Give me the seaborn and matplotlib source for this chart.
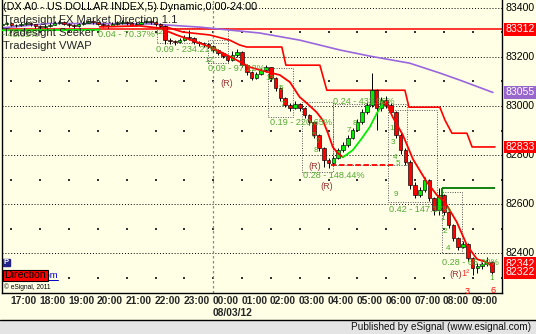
import numpy as np
import pandas as pd
import matplotlib
matplotlib.use("Agg")
import matplotlib.pyplot as plt
import matplotlib.transforms as mtransforms
from matplotlib.patches import Rectangle
import seaborn as sns

# ---------------- data ----------------
bar_start = "2012-08-02 16:40"
bar_minutes = 10
open_first = 83328
close = [83332, 83336, 83330, 83328, 83334, 83338, 83332, 83326, 83320, 83324,
         83330, 83336, 83340, 83334, 83330, 83326, 83332, 83338, 83344, 83340,
         83334, 83330, 83326, 83332, 83338, 83342, 83336, 83330, 83334, 83340,
         83346, 83340, 83334, 83326, 83268, 83264, 83260, 83268, 83280, 83276,
         83260, 83256, 83252, 83244, 83228, 83215, 83203, 83187, 83207, 83220,
         83166, 83138, 83113, 83130, 83146, 83158, 83113, 83072, 83031, 83003,
         82991, 83007, 82991, 82963, 82934, 82881, 82829, 82780, 82767, 82788,
         82821, 82841, 82870, 82902, 82935, 82975, 83004, 83065, 82992, 83024,
         83003, 82975, 82881, 82821, 82772, 82678, 82637, 82658, 82698, 82625,
         82576, 82637, 82568, 82515, 82462, 82425, 82438, 82381, 82340, 82348,
         82356, 82364, 82324]
high = [83340, 83342, 83340, 83334, 83340, 83346, 83340, 83334, 83328, 83332,
        83336, 83344, 83348, 83344, 83338, 83334, 83338, 83346, 83352, 83350,
        83342, 83338, 83334, 83340, 83346, 83350, 83346, 83340, 83342, 83356,
        83352, 83350, 83344, 83338, 83328, 83276, 83270, 83276, 83288, 83310,
        83280, 83266, 83262, 83256, 83248, 83232, 83220, 83206, 83225, 83232,
        83222, 83170, 83142, 83140, 83154, 83166, 83160, 83118, 83076, 83036,
        83012, 83020, 83012, 82996, 82968, 82940, 82886, 82834, 82790, 82796,
        82830, 82852, 82880, 82912, 82946, 82986, 83016, 83134, 83070, 83036,
        83040, 83012, 82980, 82890, 82830, 82780, 82690, 82668, 82712, 82702,
        82630, 82665, 82640, 82572, 82520, 82466, 82452, 82442, 82384, 82360,
        82366, 82385, 82368]
low = [83326, 83328, 83324, 83320, 83324, 83330, 83326, 83318, 83312, 83316,
       83320, 83328, 83332, 83328, 83322, 83318, 83322, 83330, 83336, 83332,
       83328, 83322, 83316, 83324, 83330, 83334, 83330, 83324, 83326, 83332,
       83336, 83332, 83326, 83316, 83254, 83252, 83248, 83256, 83264, 83268,
       83252, 83246, 83242, 83236, 83220, 83206, 83194, 83178, 83182, 83200,
       83158, 83128, 83105, 83108, 83126, 83140, 83104, 83062, 83020, 82994,
       82980, 82986, 82978, 82952, 82924, 82870, 82818, 82752, 82747, 82758,
       82782, 82812, 82834, 82864, 82896, 82928, 82966, 82996, 82902, 82980,
       82990, 82962, 82870, 82806, 82760, 82660, 82624, 82630, 82650, 82612,
       82558, 82555, 82556, 82505, 82450, 82415, 82420, 82370, 82311, 82318,
       82338, 82350, 82316]

# Market-direction moving average (hours from 00:00 on 08/03/12), coloured by state
ma_green1_h = [-7.31, -5.68, -3.94]
ma_green1_p = [83308, 83309, 83310]
ma_red1_h = [-3.94, -2.55, -1.86, -1.27, -0.47, 0.12, 0.68, 1.27, 1.89, 2.31, 2.66,
             3.00, 3.25, 3.59, 3.80, 3.98, 4.15, 4.32, 4.50]
ma_red1_p = [83322, 83326, 83317, 83289, 83256, 83228, 83195, 83158, 83138, 83126, 83097,
             83036, 83011, 82974, 82942, 82889, 82832, 82808, 82791]
ma_green2_h = [4.50, 4.84, 5.16, 5.43, 5.68, 5.89]
ma_green2_p = [82791, 82820, 82869, 82914, 82971, 83011]
ma_red2_h = [5.89, 6.02, 6.23, 6.58, 6.93, 7.41, 7.76, 8.04, 8.45, 8.80, 9.15, 9.50, 9.70]
ma_red2_p = [83011, 83008, 82954, 82881, 82783, 82690, 82637, 82608, 82527, 82433, 82376, 82364, 82342]

# Seeker trailing stop
stop_h = [-1.96, -1.61, -1.06, -0.12, 0.57, 0.92, 1.16, 2.38, 2.52, 3.70, 3.94, 6.65,
          6.79, 7.86, 8.04, 8.28, 8.80, 8.98, 9.77]
stop_p = [83317, 83321, 83301, 83289, 83268, 83248, 83240, 83240, 83166, 83166, 83064,
          83064, 82995, 82995, 82942, 82889, 82889, 82833, 82833]

# VWAP
vwap_h = [-7.31, -5.68, -2.20, -0.47, 1.61, 3.00, 4.39, 5.43, 6.82, 7.86, 8.56, 9.70]
vwap_p = [83318, 83336, 83334, 83321, 83297, 83268, 83228, 83203, 83174, 83134, 83105, 83055]

direction_level = 83312
support_level = 82760
support_span = (4.1, 6.3)
green_level = 82665
green_span = (7.94, 9.77)

# Seeker boxes: (h0, h1, p_low, p_high)
boxes = [(-1.96, 0.50, 83256, 83317), (-0.19, 0.50, 83174, 83268),
         (1.89, 2.76, 82955, 83154), (3.07, 4.15, 82731, 83016),
         (4.15, 6.72, 82760, 83008), (6.06, 7.76, 82609, 82984),
         (7.93, 8.63, 82401, 82650)]
box_labels = [(-7.34, 83289, "- 48.65%"), (-4.01, 83289, "0.04 - 70.37%"),
              (-1.99, 83228, "0.09 - 234.21%"), (-0.19, 83154, "0.09 - 97.12%"),
              (1.96, 82934, "0.19 - 220.65%"), (3.12, 82715, "0.28 - 148.44%"),
              (4.15, 83020, "0.24 - 433.96%"), (6.09, 82580, "0.42 - 147.17%"),
              (7.93, 82364, "0.28 - 65.09%")]
r_labels = [(0.47, 83093), (3.52, 82755), (3.94, 82670)]
count_labels = [(-1.90, 83300, "12"), (-0.15, 83185, "12"), (1.95, 83110, "13"),
                (2.35, 83070, "5"), (2.42, 83005, "7"), (3.50, 82880, "5"),
                (3.62, 82855, "7"), (3.55, 82820, "8"), (4.70, 82900, "7"),
                (4.90, 82930, "8"), (6.20, 82910, "1"), (6.25, 82850, "3"),
                (6.30, 82790, "4"), (6.40, 82765, "5"), (6.35, 82640, "9"),
                (7.95, 82540, "1"), (8.05, 82490, "2"), (8.15, 82420, "4"),
                (9.65, 82297, "1")]

y_ticks = [83400, 83200, 83000, 82800, 82600, 82400]
minor_levels = [83300, 83100, 82900, 82700, 82500, 82300]
hour_ticks = list(range(-7, 10))
# (value, colour, text, vertical nudge in px so stacked labels stay readable)
last_values = [(83312, '#FF0000', '83312', 0), (83055, '#9966CC', '83055', 0),
               (82833, '#FF0000', '82833', 0), (82342, '#FF0000', '82342', 4),
               (82322, '#FF0000', '82322', 0)]

# ---------------- figure ----------------
W, H = 536, 334
BG = '#FFFFE6'
sns.set_theme(style='white', rc={'axes.facecolor': BG, 'figure.facecolor': BG})
plt.rcParams['font.family'] = ['Liberation Sans', 'DejaVu Sans']

fig = plt.figure(figsize=(W / 100, H / 100), dpi=100)
fig.patch.set_facecolor(BG)
AX_L, AX_R, AX_T, AX_B = 1.5, 502.0, 0.0, 292.7
ax = fig.add_axes([AX_L / W, 1 - AX_B / H, (AX_R - AX_L) / W, (AX_B - AX_T) / H])
ax.set_facecolor(BG)
XMIN, XMAX = -7.344, 10.017
ax.set_xlim(XMIN, XMAX)
ax.set_ylim(82239.6, 83431.4)
ax.set_xticks([])
ax.set_yticks([])
ax.spines['top'].set_visible(False)
for s in ['left', 'right', 'bottom']:
    ax.spines[s].set_color('black')
    ax.spines[s].set_linewidth(1.0)

def fy(ypx):
    return 1 - ypx / H

def fx(xpx):
    return xpx / W

# grid
ax.hlines(y_ticks, XMIN, XMAX, colors='black', linestyles=(0, (1, 2)), lw=0.7, zorder=1)
gx, gy = np.meshgrid(hour_ticks + [10], minor_levels)
ax.scatter(gx.ravel(), gy.ravel(), marker='s', s=1.2, color='#333333', lw=0, zorder=1)
ax.axvline(0, color='#888888', ls=(0, (2, 2)), lw=0.9, zorder=1)

# seeker boxes
for h0, h1, p0, p1 in boxes:
    ax.add_patch(Rectangle((h0, p0), h1 - h0, p1 - p0, fill=False, ec='#555555',
                           ls=(0, (1, 1.5)), lw=0.7, zorder=2))

# levels
ax.axhline(direction_level, color='#FF0000', lw=1.1, zorder=2)
ax.hlines(support_level, *support_span, colors='#FF0000', linestyles=(0, (3, 1.5)), lw=1.3, zorder=2)
ax.hlines(green_level, *green_span, colors='#007700', lw=1.3, zorder=2)
ax.vlines(green_span[0], green_level - 30, green_level, colors='#007700', lw=1.3, zorder=2)

# VWAP & stop
sns.lineplot(x=vwap_h, y=vwap_p, ax=ax, color='#9966DD', lw=1.2, zorder=2)
sns.lineplot(x=stop_h, y=stop_p, ax=ax, color='#FF0000', lw=1.2, zorder=2)

# candles
times = pd.date_range(bar_start, periods=len(close), freq=f'{bar_minutes}min')
hrs = ((times - pd.Timestamp('2012-08-03 00:00')).total_seconds() / 3600).to_numpy()
c = np.array(close, float)
o = np.array([open_first] + close[:-1], float)
hi = np.array(high, float)
lo = np.array(low, float)
ax.vlines(hrs, lo, hi, colors='black', lw=0.7, zorder=3)
body_lo = np.minimum(o, c)
body_h = np.maximum(np.abs(c - o), 2.0)
cols = np.where(c >= o, '#00EE00', '#FF0000')
ax.bar(hrs, body_h, bottom=body_lo, width=0.125, color=cols, edgecolor='black',
       linewidth=0.45, zorder=3)

# market direction MA
for hh, pp, col in [(ma_green1_h, ma_green1_p, '#00EE00'), (ma_red1_h, ma_red1_p, '#FF0000'),
                    (ma_green2_h, ma_green2_p, '#00EE00'), (ma_red2_h, ma_red2_p, '#FF0000')]:
    sns.lineplot(x=hh, y=pp, ax=ax, color=col, lw=1.3, zorder=4, sort=False)

# labels inside the chart
for hh, pp, t in box_labels:
    ax.text(hh, pp, t, color='#55AA33', fontsize=6.6, ha='left', va='center', zorder=5)
for hh, pp in r_labels:
    ax.text(hh, pp, '(R)', color='#993333', fontsize=6.6, ha='center', va='center', zorder=5)
ax.text(8.18, 82315, '(R)', color='#993333', fontsize=6.6, ha='left', va='center', zorder=5)
ax.text(8.62, 82318, '1²', color='#FF3333', fontsize=6.6, ha='left', va='center', zorder=5)
for hh, pp, t in count_labels:
    ax.text(hh, pp, t, color='#44AA22', fontsize=5.8, ha='center', va='center', zorder=5)
ax.text(8.80, 82245, '3', color='#FF0000', fontsize=6.5, ha='center', va='center', zorder=5)
ax.text(9.72, 82248, '6', color='#FF0000', fontsize=6.5, ha='center', va='center', zorder=5)

# title / study legend
fig.text(fx(3), fy(7), '(DX A0 - US DOLLAR INDEX,5) Dynamic,0:00-24:00', fontsize=7.8,
         ha='left', va='center', color='black')
fig.text(fx(3), fy(20), 'Tradesight FX Market Direction 1.1', fontsize=8.1, ha='left', va='center')
fig.text(fx(3), fy(33), 'Tradesight Seeker', fontsize=8.1, ha='left', va='center')
fig.text(fx(3), fy(46), 'Tradesight VWAP', fontsize=8.1, ha='left', va='center')

# bottom-left widgets
fig.patches.append(Rectangle((fx(3), fy(266)), 7 / W, 7 / H, transform=fig.transFigure,
                             fc='#22228A', ec='#22228A', zorder=6))
fig.text(fx(6.5), fy(262.5), 'P', fontsize=5.5, color='white', ha='center', va='center',
         weight='bold', zorder=7)
fig.text(fx(58), fy(276), 'esignal.com', fontsize=6.8, color='#0000CC', ha='right',
         va='center', zorder=6)
fig.lines.append(plt.Line2D([fx(30), fx(58)], [fy(280.3), fy(280.3)], transform=fig.transFigure,
                            color='#0000CC', lw=0.7, zorder=6))
fig.patches.append(Rectangle((fx(2.5), fy(280.5)), 45.5 / W, 10.5 / H, transform=fig.transFigure,
                             fc='#FF0000', ec='black', lw=0.8, zorder=7))
fig.text(fx(25), fy(275.3), 'Direction', fontsize=7.6, color='black', ha='center', va='center',
         zorder=8)
fig.text(fx(4), fy(287), '© eSignal, 2011', fontsize=4.8, color='black', ha='left', va='center')

# right price axis
trans_r = mtransforms.blended_transform_factory(fig.transFigure, ax.transData)
for v in y_ticks:
    fig.text(fx(505), v, str(v), transform=trans_r, fontsize=7.6, ha='left', va='center',
             color='black', zorder=3)
for v, col, t, nudge in last_values:
    tr = trans_r + mtransforms.ScaledTranslation(0, nudge / 100, fig.dpi_scale_trans)
    fig.text(fx(505), v, t, transform=tr, fontsize=7.6, ha='left', va='center',
             color='white', zorder=4,
             bbox=dict(boxstyle='square,pad=0.12', fc=col, ec='none'))

# time axis
trans_b = mtransforms.blended_transform_factory(ax.transData, fig.transFigure)
for hh in hour_ticks:
    fig.text(hh - 0.03, fy(300.5), f'{hh % 24:02d}:00', transform=trans_b, fontsize=7.4,
             weight='bold', ha='left', va='center')
fig.text(-0.03, fy(313.5), '08/03/12', transform=trans_b, fontsize=7.4, weight='bold',
         ha='left', va='center')

# publisher strip
fig.patches.append(Rectangle((0, 0), 1, 14 / H, transform=fig.transFigure,
                             fc='#E4E4E4', ec='none', zorder=1))
fig.lines.append(plt.Line2D([0, 1], [fy(320), fy(320)], transform=fig.transFigure,
                            color='black', lw=1.0))
fig.text(fx(531), fy(327), 'Published by eSignal (www.esignal.com)', fontsize=7.2,
         ha='right', va='center', color='#111111')

fig.savefig('out.png', dpi=100, facecolor=BG)
